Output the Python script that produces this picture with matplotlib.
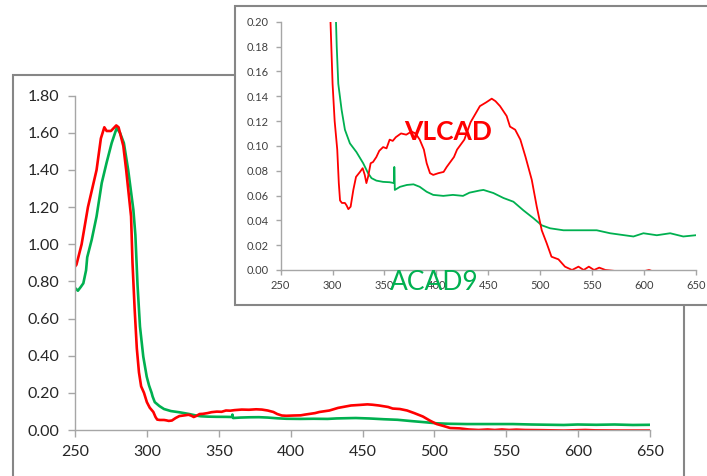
import matplotlib
matplotlib.use('Agg')
from matplotlib import pyplot as plt
from matplotlib.patches import Rectangle
from matplotlib.ticker import FormatStrFormatter, MultipleLocator

##### Data #####
vlcad_nm = [250, 251, 254.6, 259, 265, 268, 270.4, 272, 275, 278.7, 280.3, 283.6, 285.6,
            289, 290, 291.5, 293, 294.5, 296, 298, 300, 302, 304.5, 306, 307.2, 309,
            311.9, 313.5, 315.2, 317.4, 320, 322.6, 326.4, 329, 331, 332.6, 334.2, 336.7,
            339, 342.2, 345, 348.7, 352, 355, 358, 361, 366, 371, 376, 380, 384, 388,
            390.7, 393.9, 397, 402, 407, 410, 417, 420, 427, 433, 442, 448, 453.4, 457,
            461.4, 467.8, 471, 476, 481, 486, 492, 496.8, 501.6, 506.4, 511, 517.7, 524,
            530.8, 537, 542, 547, 552, 557, 563, 575, 590, 600, 605, 612, 630, 650]
vlcad_abs = [0.88, 0.89, 1.00, 1.20, 1.40, 1.57, 1.63, 1.61, 1.61, 1.64, 1.63, 1.53, 1.40,
             1.15, 0.90, 0.65, 0.44, 0.31, 0.235, 0.20, 0.15, 0.12, 0.097, 0.070, 0.056, 0.054,
             0.054, 0.052, 0.049, 0.051, 0.0645, 0.075, 0.079, 0.082, 0.0766, 0.070, 0.075, 0.086,
             0.087, 0.091, 0.096, 0.099, 0.098, 0.105, 0.104, 0.107, 0.110, 0.109, 0.1115, 0.110, 0.105, 0.097,
             0.086, 0.078, 0.0766, 0.078, 0.079, 0.083, 0.091, 0.097, 0.105, 0.119, 0.132, 0.135, 0.138, 0.136,
             0.132, 0.124, 0.1155, 0.113, 0.105, 0.091, 0.0726, 0.051, 0.032, 0.0215, 0.0107, 0.0086, 0.0027,
             0.0, 0.0027, 0.0, 0.0027, 0.0, 0.0019, 0.0, -0.001, -0.003, -0.001, 0.0, -0.002, -0.003, -0.003]

acad9_nm = [250, 252, 254, 255.8, 257.7, 258.5, 261.6, 265, 268.6, 272, 275.5, 279, 281.3,
            284, 287, 290.6, 292, 293.5, 295.2, 297.5, 299.9, 301.5, 303.3, 304, 305.5,
            308.7, 311.9, 316.7, 323, 329.5, 334.2, 337.5, 342.2, 348.6, 355, 359.3, 359.5,
            360, 365, 371.6, 378, 384, 390.7, 397, 406.7, 416, 425.7, 432, 441.6, 445.4,
            455, 464.7, 474.3, 484, 493.6, 501.6, 509.6, 522.5, 538.5, 554.6, 567.5, 590,
            599.6, 612.5, 625.4, 638, 650]
acad9_abs = [0.765, 0.75, 0.77, 0.79, 0.86, 0.93, 1.024, 1.15, 1.33, 1.44, 1.545, 1.626, 1.60,
             1.545, 1.40, 1.186, 1.05, 0.78, 0.557, 0.395, 0.287, 0.24, 0.20, 0.18, 0.15,
             0.129, 0.113, 0.102, 0.095, 0.086, 0.078, 0.074, 0.072, 0.071, 0.0707, 0.070, 0.083,
             0.0645, 0.067, 0.0685, 0.069, 0.067, 0.063, 0.0605, 0.0597, 0.0605, 0.0597, 0.0623, 0.064, 0.0645,
             0.062, 0.058, 0.055, 0.048, 0.0417, 0.036, 0.0336, 0.032, 0.032, 0.032, 0.0296, 0.027,
             0.0296, 0.028, 0.0296, 0.027, 0.028]

RED = '#ff0000'
GREEN = '#00b050'
SPINE = '#a6a6a6'
BOX = '#868686'

plt.rcParams['font.family'] = ['Lato', 'DejaVu Sans']

W, H = 707, 476
fig = plt.figure(figsize=(W / 100, H / 100), dpi=100)

def fx(px):
    return px / W

def fy(py):
    return 1 - py / H

##### Outer boxes #####
fig.patches.append(Rectangle((fx(13), fy(490)), fx(684) - fx(13), fy(75) - fy(490),
                             transform=fig.transFigure, facecolor='white', edgecolor=BOX,
                             linewidth=1.5, zorder=-2))
fig.patches.append(Rectangle((fx(235), fy(305)), fx(720) - fx(235), fy(6.5) - fy(305),
                             transform=fig.transFigure, facecolor='white', edgecolor=BOX,
                             linewidth=1.5, zorder=1))

def style_axes(ax, size, color, ticklen):
    ax.set_facecolor('none')
    for s in ['top', 'right']:
        ax.spines[s].set_visible(False)
    for s in ['left', 'bottom']:
        ax.spines[s].set_color(SPINE)
        ax.spines[s].set_linewidth(1.0)
    ax.tick_params(direction='out', length=ticklen, width=1.0, color=SPINE,
                   labelsize=size, labelcolor=color)
    ax.xaxis.set_major_locator(MultipleLocator(50))

##### Main chart #####
ax = fig.add_axes([fx(75), fy(430), fx(650) - fx(75), fy(95.7) - fy(430)])
ax.set_zorder(0)
ax.plot(acad9_nm, acad9_abs, color=GREEN, lw=1.9)
ax.plot(vlcad_nm, vlcad_abs, color=RED, lw=1.9)
ax.set_xlim(250, 650)
ax.set_ylim(0, 1.8)
ax.yaxis.set_major_locator(MultipleLocator(0.2))
ax.yaxis.set_major_formatter(FormatStrFormatter('%.2f'))
style_axes(ax, 11.5, '#262626', 5)
ax.tick_params(axis='y', pad=6)
ax.tick_params(axis='x', pad=6)

##### Inset #####
ins = fig.add_axes([fx(280.7), fy(270), fx(695.7) - fx(280.7), fy(21.7) - fy(270)])
ins.set_zorder(2)
ins.plot(acad9_nm, acad9_abs, color=GREEN, lw=1.3)
ins.plot(vlcad_nm, vlcad_abs, color=RED, lw=1.3)
ins.set_xlim(250, 650)
ins.set_ylim(0, 0.2)
ins.yaxis.set_major_locator(MultipleLocator(0.02))
ins.yaxis.set_major_formatter(FormatStrFormatter('%.2f'))
style_axes(ins, 8, '#404040', 3.5)
ins.tick_params(axis='y', pad=5)
ins.tick_params(axis='x', pad=4)

##### Labels #####
fig.text(fx(404), fy(132), 'VLCAD', color=RED, fontsize=19, fontweight='bold',
         ha='left', va='center', zorder=5)
fig.text(fx(390), fy(283), 'ACAD9', color=GREEN, fontsize=19,
         ha='left', va='center', zorder=5)

plt.savefig('out.png', dpi=100)
